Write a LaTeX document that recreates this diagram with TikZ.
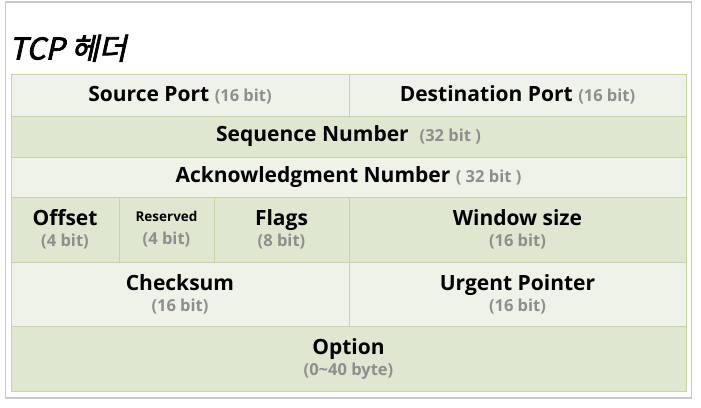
\documentclass[tikz,border=0pt]{standalone}
\usepackage{fontspec}
\setmainfont{Open Sans}
\newfontfamily\titlefont[FakeSlant=0.22,FakeBold=2.5]{Noto Sans CJK KR}
\usepackage{tikz}
\usetikzlibrary{positioning}

\definecolor{lightrow}{HTML}{EEF2E8}
\definecolor{darkrow}{HTML}{DFE7D0}
\definecolor{cellline}{HTML}{C4D79E}
\definecolor{bitgray}{HTML}{8E8E8E}
\definecolor{framegray}{HTML}{C8C8C8}

\newcommand{\bitnote}[1]{{\fontsize{16.5}{18}\selectfont\color{bitgray}#1}}

\begin{document}
\begin{tikzpicture}[x=1pt, y=-1pt,
    cell/.style={draw=cellline, line width=1pt, inner sep=0pt, align=center,
        font=\fontsize{21}{25}\selectfont\bfseries},
    light/.style={cell, fill=lightrow},
    dark/.style={cell, fill=darkrow}]
    \useasboundingbox [fill=white] (0,0) rectangle (701,407);
    \draw [framegray, line width=1.2pt] (5.5,2) rectangle (691.5,398);

    \node (title) [anchor=base west, inner xsep=0pt] at (9,59.5) {\titlefont\fontsize{30}{32}\selectfont TCP 헤더};

    % row 1
    \node (src) [light, minimum width=338pt, minimum height=42pt] at (180,95) {Source Port \bitnote{(16 bit)}};
    \node (dst) [light, minimum width=337pt, minimum height=42pt] at (517.5,95) {Destination Port \bitnote{(16 bit)}};
    % rows 2 and 3
    \node (seq) [dark, minimum width=675pt, minimum height=41pt] at (348.5,136.5) {Sequence Number\ \ \bitnote{(32 bit )}};
    \node (ack) [light, minimum width=675pt, minimum height=40pt] at (348.5,177) {Acknowledgment Number \bitnote{( 32 bit )}};
    % row 4
    \node (off) [dark, minimum width=108pt, minimum height=65pt] at (65,229.5) {Offset\\[-4pt]\bitnote{(4 bit)}};
    \node (rsv) [dark, minimum width=95pt, minimum height=65pt] at (166.5,229.5) {{\fontsize{13.5}{16}\selectfont Reserved}\\[-2pt]\bitnote{(4 bit)}};
    \node (flg) [dark, minimum width=135pt, minimum height=65pt] at (281.5,229.5) {Flags\\[-4pt]\bitnote{(8 bit)}};
    \node (win) [dark, minimum width=337pt, minimum height=65pt] at (517.5,229.5) {Window size\\[-4pt]\bitnote{(16 bit)}};
    % row 5
    \node (chk) [light, minimum width=338pt, minimum height=64pt] at (180,294) {Checksum\\[-4pt]\bitnote{(16 bit)}};
    \node (urg) [light, minimum width=337pt, minimum height=64pt] at (517.5,294) {Urgent Pointer\\[-4pt]\bitnote{(16 bit)}};
    % row 6
    \node (opt) [dark, minimum width=675pt, minimum height=65pt] at (348.5,358.5) {Option\\[-4pt]\bitnote{(0\textasciitilde40 byte)}};
\end{tikzpicture}
\end{document}
